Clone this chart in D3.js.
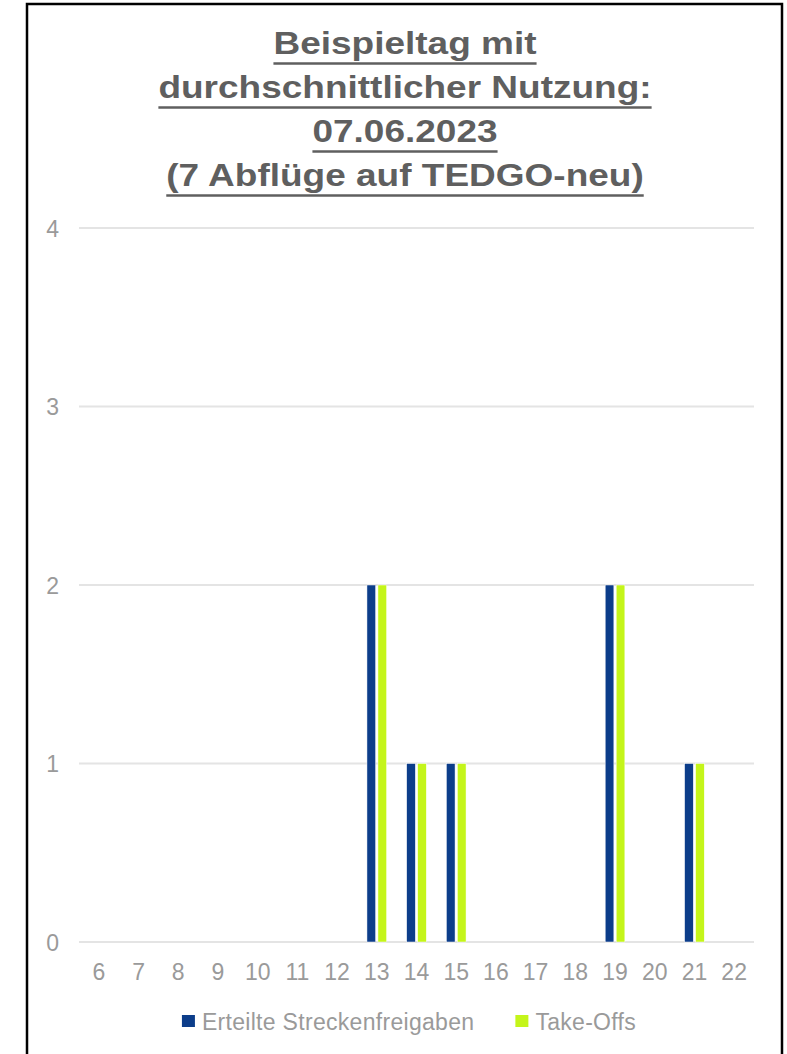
<!DOCTYPE html>
<html>
<head>
<meta charset="utf-8">
<script src="https://cdn.jsdelivr.net/npm/d3@7"></script>
<style>
  html, body { margin: 0; padding: 0; background: #fff; }
  svg text { font-family: "Liberation Sans", Arial, sans-serif; }
</style>
</head>
<body>
<svg id="chart" width="787" height="1054"></svg>
<script>
// Stunden des Tages
var hours = ["6", "7", "8", "9", "10", "11", "12", "13", "14", "15", "16", "17", "18", "19", "20", "21", "22"];
var freigaben = [0, 0, 0, 0, 0, 0, 0, 2, 1, 1, 0, 0, 0, 2, 0, 1, 0];
var takeOffs = [0, 0, 0, 0, 0, 0, 0, 2, 1, 1, 0, 0, 0, 2, 0, 1, 0];
var seriesNames = ["Erteilte Streckenfreigaben", "Take-Offs"];
var seriesColors = ["#0C3D8A", "#C4F51A"];
var yTicks = [0, 1, 2, 3, 4];
var titleLines = ["Beispieltag mit", "durchschnittlicher Nutzung:", "07.06.2023", "(7 Abflüge auf TEDGO-neu)"];

var svg = d3.select("#chart");
var margin = { left: 79, right: 754, top: 228, bottom: 942 };

// Rahmen
svg.append("rect")
    .attr("x", 27).attr("y", 4)
    .attr("width", 755).attr("height", 1070)
    .attr("fill", "#fff")
    .attr("stroke", "#000")
    .attr("stroke-width", 2.5);

// Titel (leicht gestaucht wie im Original)
var title = svg.append("g");
titleLines.forEach(function (line, i) {
    var g = title.append("g")
        .attr("transform", "translate(405," + (54 + i * 44) + ") scale(1,0.86)");
    var t = g.append("text")
        .attr("x", 0).attr("y", 0)
        .attr("text-anchor", "middle")
        .attr("font-size", 37)
        .attr("font-weight", "bold")
        .attr("fill", "#5f5f5f")
        .text(line);
    var w = t.node().getComputedTextLength();
    title.append("line")
        .attr("x1", 405 - w / 2).attr("x2", 405 + w / 2)
        .attr("y1", 63.5 + i * 44).attr("y2", 63.5 + i * 44)
        .attr("stroke", "#5f5f5f")
        .attr("stroke-width", 2.5);
});

var x = d3.scaleBand()
    .domain(hours)
    .range([margin.left, margin.right]);

var xInner = d3.scaleBand()
    .domain(seriesNames)
    .range([0, x.bandwidth()])
    .paddingInner(0.21)
    .paddingOuter(0.91);

var y = d3.scaleLinear()
    .domain([0, 4])
    .range([margin.bottom, margin.top]);

// Gitterlinien
svg.append("g")
    .selectAll("line")
    .data(yTicks)
    .enter()
    .append("line")
    .attr("x1", margin.left).attr("x2", margin.right)
    .attr("y1", d => y(d)).attr("y2", d => y(d))
    .attr("stroke", "#e4e4e4")
    .attr("stroke-width", 2);

var yAxis = d3.axisLeft(y).tickValues(yTicks).tickFormat(d3.format("d")).tickSize(0).tickPadding(0);
var yg = svg.append("g")
    .attr("transform", "translate(59,0)")
    .call(yAxis);
yg.select(".domain").remove();
yg.selectAll("text")
    .attr("font-size", 23)
    .attr("fill", "#9a9a9a")
    .attr("dy", "0.36em");

var xAxis = d3.axisBottom(x).tickSize(0).tickPadding(0);
var xg = svg.append("g")
    .attr("transform", "translate(0,980)")
    .call(xAxis);
xg.select(".domain").remove();
xg.selectAll("text")
    .attr("font-size", 23)
    .attr("fill", "#9a9a9a")
    .attr("dy", 0);

// Balken
var rows = hours.map(function (h, i) {
    return { hour: h, values: [freigaben[i], takeOffs[i]] };
});
var groups = svg.append("g")
    .selectAll("g")
    .data(rows)
    .enter()
    .append("g")
    .attr("transform", d => "translate(" + x(d.hour) + ",0)");
groups.selectAll("rect")
    .data(d => d.values.map((v, j) => ({ name: seriesNames[j], value: v, color: seriesColors[j] })))
    .enter()
    .filter(d => d.value > 0)
    .append("rect")
    .attr("x", d => xInner(d.name))
    .attr("width", xInner.bandwidth())
    .attr("y", d => y(d.value))
    .attr("height", d => y(0) - y(d.value))
    .attr("fill", d => d.color)
    .attr("stroke", "#fff")
    .attr("stroke-width", 0.5);

// Legende
var legend = svg.append("g");
var lx = 0;
seriesNames.forEach(function (name, i) {
    var item = legend.append("g").attr("transform", "translate(" + lx + ",0)");
    item.append("rect")
        .attr("x", 0).attr("y", 1015)
        .attr("width", 13).attr("height", 12)
        .attr("fill", seriesColors[i]);
    var t = item.append("text")
        .attr("x", 20).attr("y", 1030)
        .attr("font-size", 23)
        .attr("letter-spacing", 0.3)
        .attr("fill", "#9a9a9a")
        .text(name);
    lx += 20 + t.node().getComputedTextLength() + 41;
});
var legendW = lx - 41;
legend.attr("transform", "translate(" + (409 - legendW / 2) + ",0)");
</script>
</body>
</html>
